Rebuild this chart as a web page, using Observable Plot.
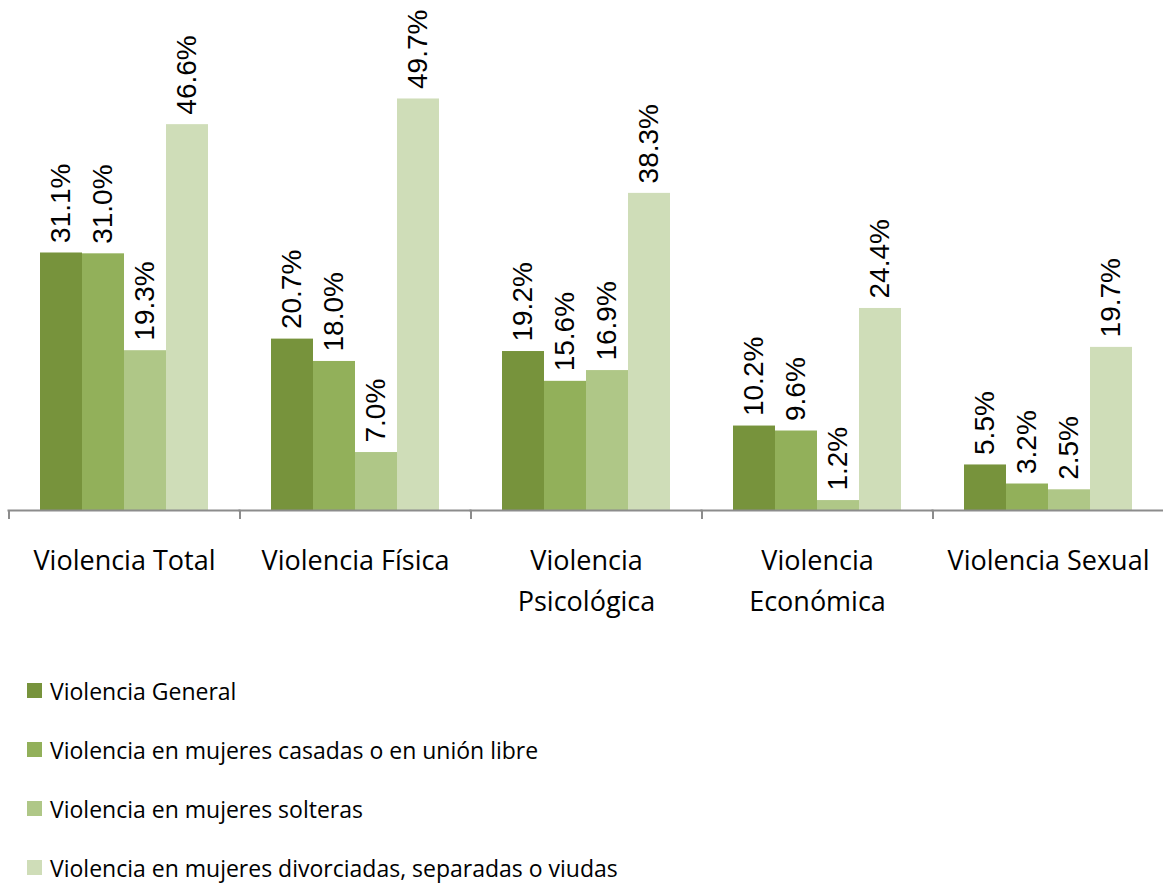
<!DOCTYPE html>
<html>
<head>
<meta charset="utf-8">
<script src="https://cdn.jsdelivr.net/npm/d3@7"></script>
<script src="https://cdn.jsdelivr.net/npm/@observablehq/plot@0.6"></script>
<style>
  html, body { margin: 0; padding: 0; background: #fff; }
  #chart { width: 1163px; }
  .legend { margin-top: 21px; font-family: "Open Sans", sans-serif; font-size: 23px; color: #000; }
  .legend .item { display: flex; align-items: center; height: 59px; margin-left: 27px; }
  .legend .sw { width: 15px; height: 15px; margin-right: 8px; }
</style>
</head>
<body>
<div id="chart"></div>
<script>
const categories = ["Violencia Total", "Violencia Física", "Violencia Psicológica", "Violencia Económica", "Violencia Sexual"];
const categoryLabels = ["Violencia Total", "Violencia Física", "Violencia\nPsicológica", "Violencia\nEconómica", "Violencia Sexual"];
const series = [
  "Violencia General",
  "Violencia en mujeres casadas o en unión libre",
  "Violencia en mujeres solteras",
  "Violencia en mujeres divorciadas, separadas o viudas"
];
const colors = ["#77933C", "#92B05A", "#AFC787", "#CFDDB8"];
const generalValues   = [31.1, 20.7, 19.2, 10.2, 5.5];
const casadasValues   = [31.0, 18.0, 15.6, 9.6, 3.2];
const solterasValues  = [19.3, 7.0, 16.9, 1.2, 2.5];
const divorciadasValues = [46.6, 49.7, 38.3, 24.4, 19.7];

const seriesValues = [generalValues, casadasValues, solterasValues, divorciadasValues];
const data = [];
categories.forEach((c, i) => {
  series.forEach((s, j) => data.push({category: c, series: s, value: seriesValues[j][i]}));
});
const labelData = categories.map((c, i) => ({category: c, label: categoryLabels[i]}));

const width = 1163, height = 640, marginLeft = 8, marginRight = 0;
const step = (width - marginLeft - marginRight) / categories.length;

const plot = Plot.plot({
  width, height,
  marginTop: 96, marginBottom: 130, marginLeft, marginRight,
  fx: {domain: categories, paddingInner: 0.273, paddingOuter: 0.1365, axis: null, label: null},
  x: {domain: series, padding: 0, axis: null},
  y: {domain: [0, 50], axis: null},
  color: {domain: series, range: colors},
  style: {fontFamily: "'Open Sans', sans-serif", background: "#fff"},
  marks: [
    Plot.barY(data, {fx: "category", x: "series", y: "value", fill: "series"}),
    Plot.text(data, {
      fx: "category", x: "series", y: "value",
      text: d => d.value.toFixed(1) + "%",
      rotate: -90, textAnchor: "start", dy: -10,
      fontSize: 28, fontFamily: "'Liberation Sans', Arial, sans-serif", fill: "#000"
    }),
    Plot.ruleY([0], {stroke: "#8c8c8c", strokeWidth: 2, insetLeft: -step * 0.1365 - 1, insetRight: -step * 0.1365 - 1}),
    Plot.axisFx({anchor: "bottom", tickSize: 9, tickFormat: () => "", dx: -step / 2, stroke: "#8c8c8c", strokeWidth: 2}),
    Plot.axisFx({anchor: "bottom", ticks: [categories[categories.length - 1]], tickSize: 9, tickFormat: () => "", dx: step / 2, stroke: "#8c8c8c", strokeWidth: 2}),
    Plot.text(labelData, {
      fx: "category", text: "label", frameAnchor: "bottom",
      lineAnchor: "top", dy: 30, lineHeight: 1.52,
      fontSize: 27, fill: "#000"
    })
  ]
});
document.getElementById("chart").appendChild(plot);

const legend = document.createElement("div");
legend.className = "legend";
series.forEach((s, i) => {
  const item = document.createElement("div");
  item.className = "item";
  const sw = document.createElement("span");
  sw.className = "sw";
  sw.style.background = colors[i];
  const t = document.createElement("span");
  t.textContent = s;
  item.appendChild(sw);
  item.appendChild(t);
  legend.appendChild(item);
});
document.getElementById("chart").appendChild(legend);
</script>
</body>
</html>
